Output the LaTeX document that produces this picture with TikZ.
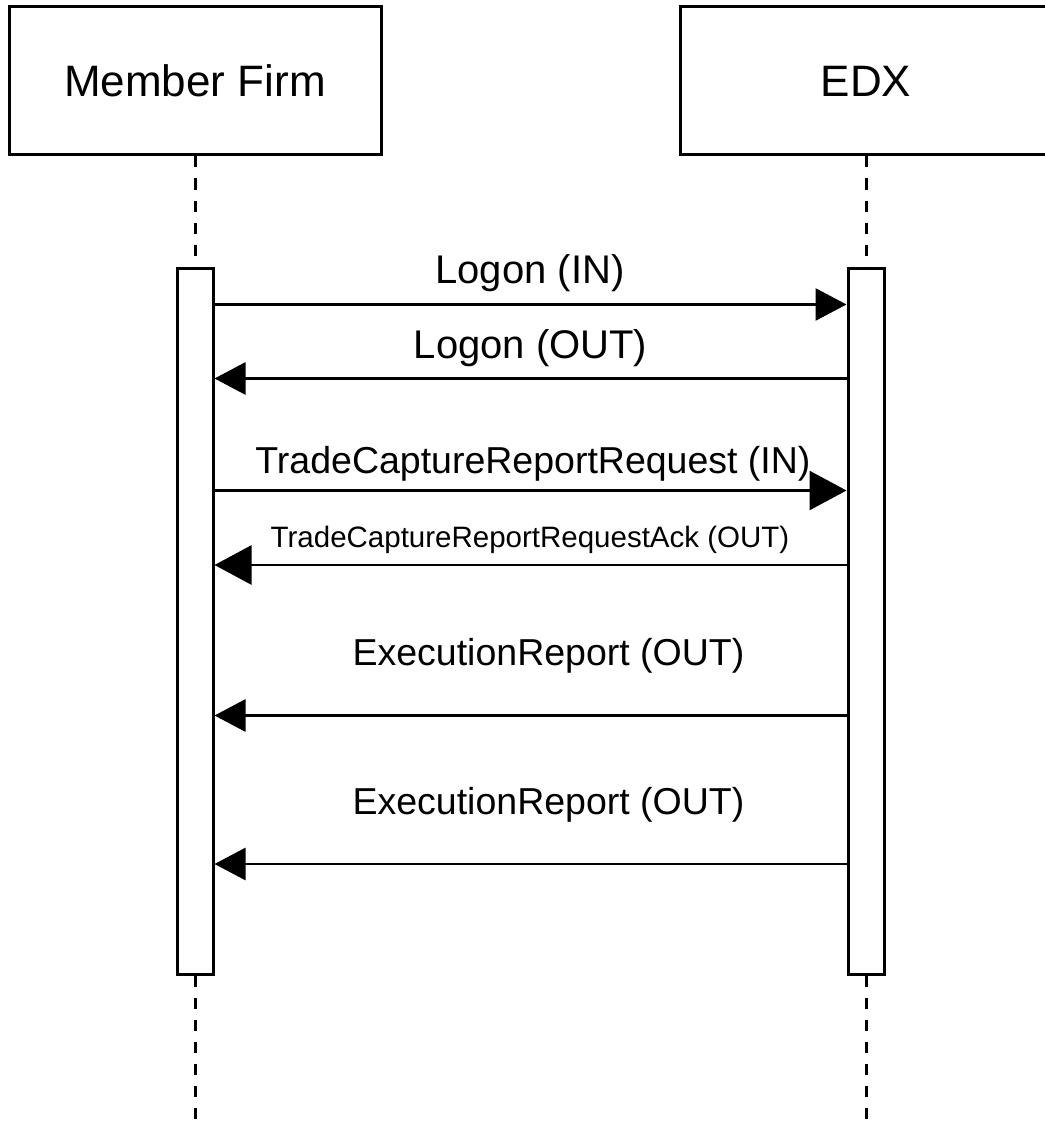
\documentclass[tikz,border=0pt]{standalone}
\usepackage{fontspec}
\setmainfont{Liberation Sans}
\usetikzlibrary{arrows.meta}
\begin{document}
\begin{tikzpicture}[x=1pt,y=-1pt,
  actor/.style={draw, line width=3pt, minimum width=372pt, minimum height=148pt, inner sep=0pt,
    font=\fontsize{44}{52}\selectfont},
  actbar/.style={draw, line width=3pt, minimum width=36pt, minimum height=706pt, inner sep=0pt},
  life/.style={line width=3pt, dash pattern=on 11pt off 11pt},
  msg/.style={line width=2.8pt, -{Triangle[length=31pt,width=32pt]}},
  msgbig/.style={line width=2.8pt, -{Triangle[length=37pt,width=39pt]}},
  lbl/.style={anchor=base, inner sep=0pt},
  big/.style={font=\fontsize{40}{48}\selectfont},
  mid/.style={font=\fontsize{37.5}{45}\selectfont},
  small/.style={font=\fontsize{29.5}{35}\selectfont}
]
\useasboundingbox (0,0) rectangle (1044,1126);

% actors
\node[actor] (mf) at (195,81) {Member Firm};
\node[actor] (edx) at (866,81) {EDX};

% activation bars
\node[actbar] (actL) at (195,621.75) {};
\node[actbar] (actR) at (866,621.75) {};

% lifeline ends
\coordinate (endL) at (195,1130);
\coordinate (endR) at (866,1130);

% lifelines
\draw[life] (mf.south) -- (actL.north);
\draw[life] (edx.south) -- (actR.north);
\draw[life] (actL.south) -- (endL);
\draw[life] (actR.south) -- (endR);

% message rows
\coordinate (m1) at (0,304.5);
\coordinate (m2) at (0,378.5);
\coordinate (m3) at (0,490.5);
\coordinate (m4) at (0,565);
\coordinate (m5) at (0,715.5);
\coordinate (m6) at (0,864);

\draw[msg] (actL.east |- m1) -- (actR.west |- m1);
\draw[msg] (actR.west |- m2) -- (actL.east |- m2);
\draw[msgbig] (actL.east |- m3) -- (actR.west |- m3);
\draw[msgbig] (actR.west |- m4) -- (actL.east |- m4);
\draw[msg] (actR.west |- m5) -- (actL.east |- m5);
\draw[msg] (actR.west |- m6) -- (actL.east |- m6);

% labels
\node[lbl, big] (l1) at (530,283) {Logon (IN)};
\node[lbl, big] (l2) at (530.5,358) {Logon (OUT)};
\node[lbl, mid] (l3) at (533,473) {TradeCaptureReportRequest (IN)};
\node[lbl, small] (l4) at (530,547) {TradeCaptureReportRequestAck (OUT)};
\node[lbl, mid] (l5) at (548.5,665) {ExecutionReport (OUT)};
\node[lbl, mid] (l6) at (548.5,814) {ExecutionReport (OUT)};
\end{tikzpicture}
\end{document}
